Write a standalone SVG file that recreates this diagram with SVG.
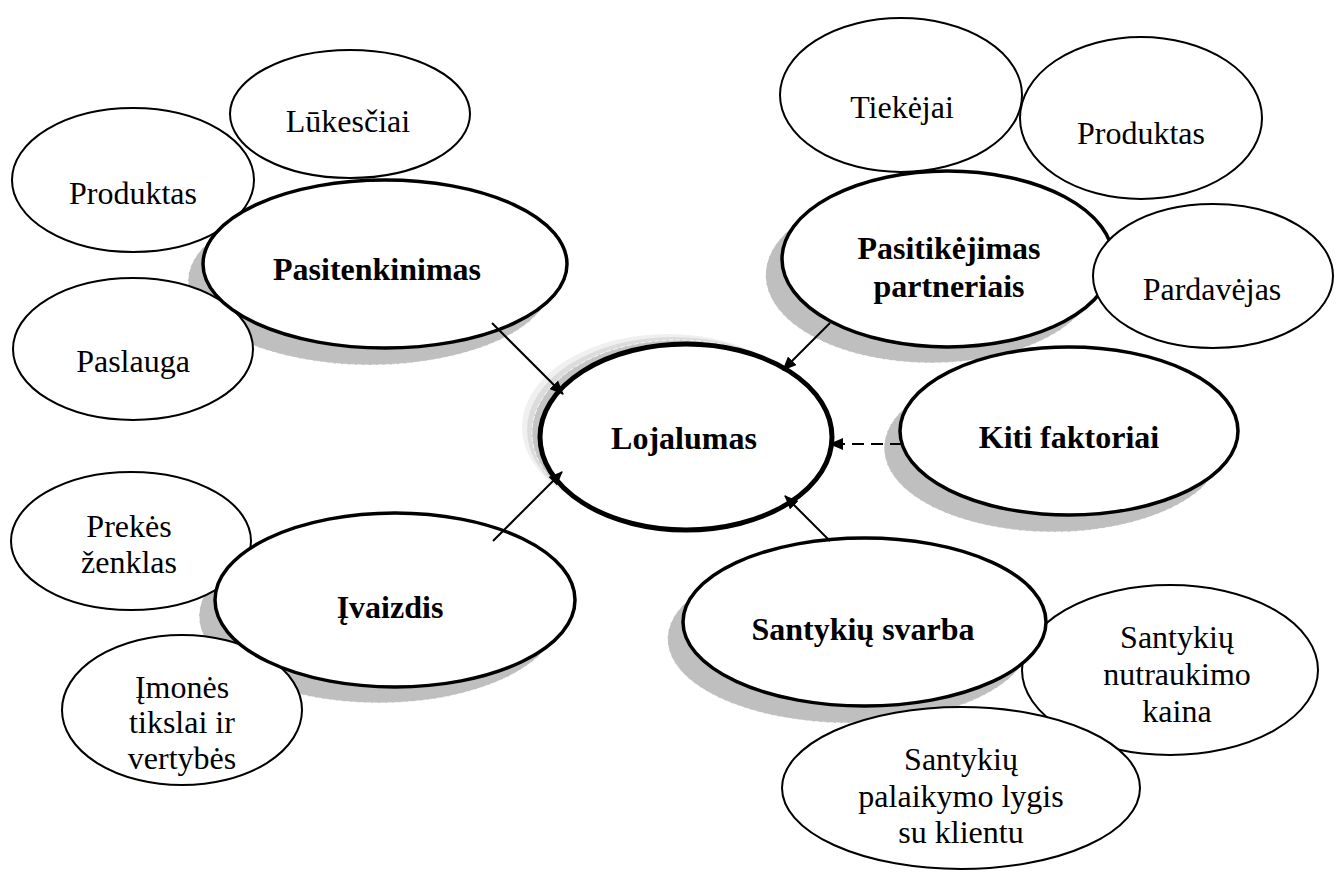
<svg xmlns="http://www.w3.org/2000/svg" width="1343" height="873" viewBox="0 0 1343 873">
  <style>
    .sat { fill: #fff; stroke: #000; stroke-width: 2; }
    .main { fill: #fff; stroke: #000; stroke-width: 3.5; }
    .core { fill: #fff; stroke: #000; stroke-width: 5; }
    .shadow { fill: #bfbfbf; stroke: #fff; stroke-width: 0.8; stroke-dasharray: 5 2; }
    .t { font-family: "Liberation Serif", "Times New Roman", serif; font-size: 32px; text-anchor: middle; fill: #000; }
    .b { font-weight: bold; }
    .link { stroke: #000; stroke-width: 2; fill: none; }
  </style>
  <defs>
    <marker id="arrow" viewBox="0 0 14 12" refX="13" refY="6" markerWidth="14" markerHeight="12" markerUnits="userSpaceOnUse" orient="auto">
      <path d="M0,0 L14,6 L0,12 Z" fill="#000"/>
    </marker>
  </defs>

  <!-- drop shadows of the factor ellipses -->
  <g id="shadows">
    <ellipse class="shadow" cx="370" cy="281" rx="182" ry="84"/>
    <ellipse class="shadow" cx="931" cy="275" rx="165.5" ry="88"/>
    <ellipse class="shadow" cx="1053" cy="448" rx="169" ry="84"/>
    <ellipse class="shadow" cx="379" cy="616" rx="180" ry="87"/>
    <ellipse class="shadow" cx="849" cy="639" rx="181.5" ry="84"/>
    <!-- soft halo behind the central node -->
    <ellipse cx="668" cy="427" rx="146" ry="93" fill="#f0f0f0"/>
    <ellipse cx="673" cy="430" rx="146" ry="93" fill="#dcdcdc"/>
    <ellipse cx="678" cy="433" rx="146" ry="93" fill="#c4c4c4" stroke="#fff" stroke-width="0.8" stroke-dasharray="5 2"/>
  </g>

  <!-- sub-factors -->
  <g id="lukesciai">
    <ellipse class="sat" cx="350" cy="114" rx="120" ry="64"/>
    <text class="t" x="348" y="132">Lūkesčiai</text>
  </g>
  <g id="produktas-1">
    <ellipse class="sat" cx="133" cy="180" rx="121" ry="72"/>
    <text class="t" x="133" y="204">Produktas</text>
  </g>
  <g id="paslauga">
    <ellipse class="sat" cx="133" cy="349" rx="120" ry="71"/>
    <text class="t" x="133" y="372">Paslauga</text>
  </g>
  <g id="tiekejai">
    <ellipse class="sat" cx="901" cy="95" rx="121" ry="77"/>
    <text class="t" x="902" y="118">Tiekėjai</text>
  </g>
  <g id="produktas-2">
    <ellipse class="sat" cx="1141" cy="118" rx="121" ry="81"/>
    <text class="t" x="1141" y="144">Produktas</text>
  </g>
  <g id="prekes-zenklas">
    <ellipse class="sat" cx="131" cy="541" rx="120" ry="69"/>
    <text class="t" x="129" y="537">Prekės</text>
    <text class="t" x="129" y="573">ženklas</text>
  </g>
  <g id="imones-tikslai">
    <ellipse class="sat" cx="182" cy="710" rx="120" ry="75"/>
    <text class="t" x="182" y="698">Įmonės</text>
    <text class="t" x="182" y="733">tikslai ir</text>
    <text class="t" x="182" y="769">vertybės</text>
  </g>
  <g id="nutraukimo-kaina">
    <ellipse class="sat" cx="1170" cy="670" rx="148" ry="85"/>
    <text class="t" x="1177" y="648">Santykių</text>
    <text class="t" x="1177" y="685">nutraukimo</text>
    <text class="t" x="1177" y="722">kaina</text>
  </g>
  <g id="palaikymo-lygis">
    <ellipse class="sat" cx="961" cy="788" rx="179" ry="81"/>
    <text class="t" x="961" y="770">Santykių</text>
    <text class="t" x="961" y="807">palaikymo lygis</text>
    <text class="t" x="961" y="843">su klientu</text>
  </g>

  <!-- main factors -->
  <g id="pasitenkinimas">
    <ellipse class="main" cx="385" cy="264" rx="182" ry="84"/>
    <text class="t b" x="377" y="280">Pasitenkinimas</text>
  </g>
  <g id="pasitikejimas">
    <ellipse class="main" cx="947.5" cy="259" rx="165.5" ry="88"/>
    <text class="t b" x="949" y="259">Pasitikėjimas</text>
    <text class="t b" x="949" y="297">partneriais</text>
  </g>
  <g id="pardavejas">
    <ellipse class="sat" cx="1213" cy="276" rx="120" ry="72"/>
    <text class="t" x="1212" y="300">Pardavėjas</text>
  </g>
  <g id="kiti-faktoriai">
    <ellipse class="main" cx="1069" cy="431" rx="169" ry="84"/>
    <text class="t b" x="1069" y="448">Kiti faktoriai</text>
  </g>
  <g id="ivaizdis">
    <ellipse class="main" cx="395" cy="600" rx="180" ry="87"/>
    <text class="t b" x="390" y="618">Įvaizdis</text>
  </g>
  <g id="santykiu-svarba">
    <ellipse class="main" cx="864.5" cy="622" rx="181.5" ry="84"/>
    <text class="t b" x="863" y="640">Santykių svarba</text>
  </g>
  <g id="lojalumas">
    <ellipse class="core" cx="686" cy="437" rx="146" ry="93"/>
    <text class="t b" x="684" y="449">Lojalumas</text>
  </g>

  <!-- influence arrows into the central node -->
  <g id="connectors">
    <line class="link" x1="492" y1="323" x2="563" y2="394" marker-end="url(#arrow)"/>
    <line class="link" x1="830" y1="323" x2="783" y2="370" marker-end="url(#arrow)"/>
    <line class="link" x1="902" y1="444" x2="830" y2="444" stroke-dasharray="12 7" marker-end="url(#arrow)"/>
    <line class="link" x1="493" y1="541" x2="562" y2="472" marker-end="url(#arrow)"/>
    <line class="link" x1="830" y1="541" x2="785" y2="496" marker-end="url(#arrow)"/>
  </g>
</svg>
